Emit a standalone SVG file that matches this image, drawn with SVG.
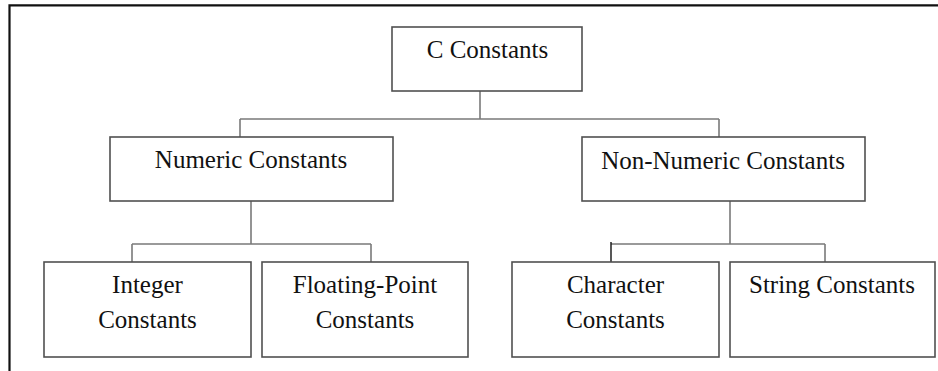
<svg xmlns="http://www.w3.org/2000/svg" width="938" height="371" viewBox="0 0 938 371">
  <style>
    .box { fill: #ffffff; stroke: #505050; stroke-width: 1.6; }
    .lbl { font-family: "Liberation Serif", "Times New Roman", serif; font-size: 25px; fill: #111111; text-anchor: middle; }
    .wire { fill: none; stroke: #7a7a7a; stroke-width: 1.6; }
    .frame { fill: none; stroke: #111111; stroke-width: 2.2; }
  </style>
  <rect width="938" height="371" fill="#ffffff"/>

  <!-- page frame (top and left edges) -->
  <path class="frame" d="M9.5 371 V5.3 H938"/>

  <!-- connectors -->
  <g id="connectors">
    <path class="wire" d="M480 91 V119 M240 119 H719 M240 119 V137 M719 119 V137"/>
    <path class="wire" d="M251 201 V244 M132 244 H371 M132 244 V262 M371 244 V262"/>
    <path class="wire" d="M730 201 V244 M611 244 H825 M825 244 V262"/>
    <path d="M611 242 V262" stroke="#111111" stroke-width="1.4"/>
  </g>

  <g id="c-constants">
    <rect class="box" x="392" y="27" width="190" height="64"/>
    <text class="lbl" x="487.5" y="58">C Constants</text>
  </g>

  <g id="numeric">
    <rect class="box" x="110" y="137" width="283" height="64"/>
    <text class="lbl" x="251" y="168">Numeric Constants</text>
  </g>

  <g id="non-numeric">
    <rect class="box" x="582" y="137" width="283" height="64"/>
    <text class="lbl" x="723" y="169">Non-Numeric Constants</text>
  </g>

  <g id="integer">
    <rect class="box" x="44" y="262" width="207" height="95"/>
    <text class="lbl" x="147.5" y="293">Integer</text>
    <text class="lbl" x="147.5" y="328">Constants</text>
  </g>

  <g id="floating-point">
    <rect class="box" x="262" y="262" width="206" height="95"/>
    <text class="lbl" x="365" y="293">Floating-Point</text>
    <text class="lbl" x="365" y="328">Constants</text>
  </g>

  <g id="character">
    <rect class="box" x="512" y="262" width="207" height="95"/>
    <text class="lbl" x="615.5" y="293">Character</text>
    <text class="lbl" x="615.5" y="328">Constants</text>
  </g>

  <g id="string">
    <rect class="box" x="730" y="262" width="205" height="95"/>
    <text class="lbl" x="832" y="293">String Constants</text>
  </g>
</svg>
